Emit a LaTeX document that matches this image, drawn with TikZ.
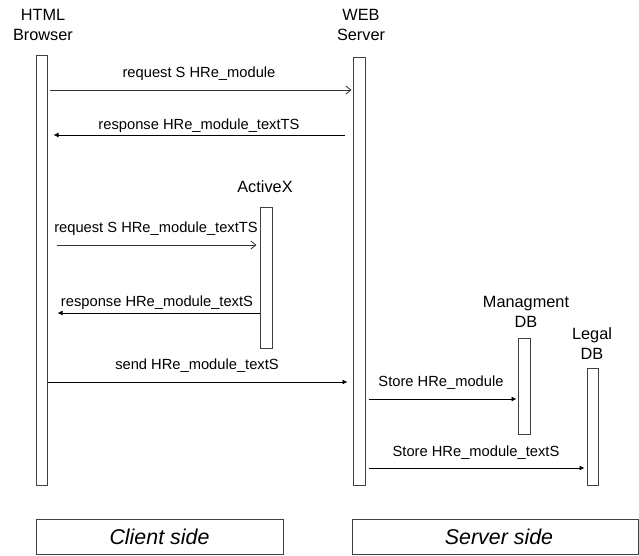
\documentclass[tikz,border=0pt]{standalone}
\usepackage{fontspec}
\setmainfont{Liberation Sans}
\usetikzlibrary{arrows.meta}
\begin{document}
\begin{tikzpicture}[x=1pt,y=-1pt,
  life/.style={draw=black!75,line width=1pt,fill=white,rectangle,inner sep=0pt},
  head/.style={font=\fontsize{16.3}{20}\selectfont,align=center,inner sep=0pt},
  lbl/.style={font=\fontsize{14.7}{16}\selectfont,inner sep=0pt},
  msgopen/.style={draw=black!80,line width=0.8pt,-{Straight Barb[length=5pt,width=8pt]}},
  msgfill/.style={draw=black,line width=0.8pt,-{Latex[length=5pt,width=5pt]}},
  sidebox/.style={draw=black!75,line width=1pt,rectangle,inner sep=0pt,font=\fontsize{21.4}{24}\selectfont\itshape}]
\useasboundingbox (0,0) rectangle (639,555);
% lifelines
\node[life,minimum width=11pt,minimum height=430pt] (browser) at (41.5,270) {};
\node[life,minimum width=12pt,minimum height=428pt] (server) at (359,271) {};
\node[life,minimum width=12pt,minimum height=141pt] (activex) at (266,277.5) {};
\node[life,minimum width=12pt,minimum height=96pt] (mgmt) at (524,386) {};
\node[life,minimum width=11pt,minimum height=117pt] (legal) at (592.5,426.5) {};
% headers
\node[head] (hbrowser) at (43,25) {HTML\\Browser};
\node[head] (hserver) at (361,25) {WEB\\Server};
\node[head] (hactivex) at (265,187) {ActiveX};
\node[head] (hmgmt) at (526,312) {Managment\\DB};
\node[head] (hlegal) at (592,344) {Legal\\DB};
% coordinates for message heights
\coordinate (y1) at (0,90);
\coordinate (y2) at (0,135);
\coordinate (y3) at (0,245);
\coordinate (y4) at (0,313);
\coordinate (y5) at (0,382);
\coordinate (y6) at (0,399);
\coordinate (y7) at (0,468);
% messages
\draw[msgopen,shorten <=2pt,shorten >=1pt] (browser.east |- y1) -- (server.west |- y1);
\node[lbl] (l1) at (199,74) {request S HRe\_module};
\draw[msgfill,shorten <=8pt,shorten >=6pt] (server.west |- y2) -- (browser.east |- y2);
\node[lbl] (l2) at (199,126) {response HRe\_module\_textTS};
\draw[msgopen,shorten <=9pt,shorten >=3pt] (browser.east |- y3) -- (activex.west |- y3);
\node[lbl] (l3) at (156,229) {request S HRe\_module\_textTS};
\draw[msgfill,shorten >=10pt] (activex.west |- y4) -- (browser.east |- y4);
\node[lbl] (l4) at (157,303) {response HRe\_module\_textS};
\draw[msgfill,shorten >=5pt] (browser.east |- y5) -- (server.west |- y5);
\node[lbl] (l5) at (197,366) {send HRe\_module\_textS};
\draw[msgfill,shorten <=3pt,shorten >=1pt] (server.east |- y6) -- (mgmt.west |- y6);
\node[lbl] (l6) at (441,383) {Store HRe\_module};
\draw[msgfill,shorten <=3pt,shorten >=2pt] (server.east |- y7) -- (legal.west |- y7);
\node[lbl] (l7) at (476,453) {Store HRe\_module\_textS};
% side boxes
\node[sidebox,minimum width=247pt,minimum height=35pt] (client) at (159.5,536.5) {Client side};
\node[sidebox,minimum width=286pt,minimum height=35pt] (serverside) at (495,536.5) {\hspace*{8pt}Server side};
\end{tikzpicture}
\end{document}
